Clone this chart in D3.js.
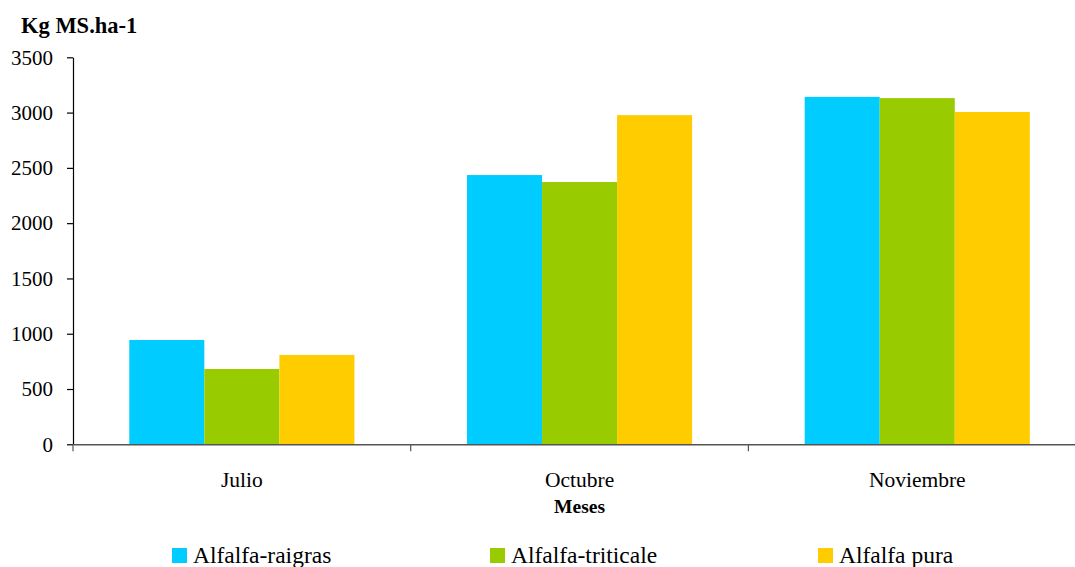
<!DOCTYPE html>
<html>
<head>
<meta charset="utf-8">
<script src="https://cdn.jsdelivr.net/npm/d3@7"></script>
<style>
  html, body { margin: 0; padding: 0; background: #fff; }
  svg text { font-family: "Times New Roman", "Liberation Serif", Times, "DejaVu Serif", serif; fill: #000; }
</style>
</head>
<body>
<svg id="chart" width="1075" height="567"></svg>
<script>
// Forage dry matter yield per month and mixture
const months = ["Julio", "Octubre", "Noviembre"];
const seriesNames = ["Alfalfa-raigras", "Alfalfa-triticale", "Alfalfa pura"];
const raigras = [943, 2435, 3142];
const triticale = [681, 2372, 3131];
const pura = [808, 2977, 3005];
const yTicks = [0, 500, 1000, 1500, 2000, 2500, 3000, 3500];
const colors = ["#00CCFF", "#99CC00", "#FFCC00"];

const seriesValues = [raigras, triticale, pura];
const serif = "'Times New Roman', 'Liberation Serif', Times, 'DejaVu Serif', serif";

const svg = d3.select("#chart");
const margin = { left: 73, top: 57.3, bottom: 444.3 };
const plotRight = 73 + 3 * 337.7;

const x = d3.scaleBand().domain(months).range([margin.left, plotRight]).paddingInner(0).paddingOuter(0);
const xs = d3.scaleBand().domain(seriesNames).range([0, x.bandwidth()]).paddingInner(0).paddingOuter(0.75);
const y = d3.scaleLinear().domain([0, 3500]).range([margin.bottom, margin.top]);

// Bars
const groups = svg.append("g").selectAll("g")
  .data(months)
  .join("g")
  .attr("transform", d => `translate(${x(d)},0)`);

groups.selectAll("rect")
  .data((m, i) => seriesNames.map((s, j) => ({ s, v: seriesValues[j][i], c: colors[j] })))
  .join("rect")
  .attr("x", d => xs(d.s))
  .attr("width", xs.bandwidth())
  .attr("y", d => y(d.v))
  .attr("height", d => y(0) - y(d.v))
  .attr("fill", d => d.c);

// Y axis
const yAxis = svg.append("g")
  .attr("transform", `translate(${margin.left},0)`)
  .call(d3.axisLeft(y).tickValues(yTicks).tickFormat(d3.format("d")).tickSize(6).tickPadding(14).tickSizeOuter(0))
  .attr("font-family", serif);
yAxis.select(".domain").attr("stroke", "#000").attr("stroke-width", 1.2);
yAxis.selectAll(".tick line").attr("stroke", "#000").attr("stroke-width", 1.2);
yAxis.selectAll(".tick text").attr("font-size", 21).attr("fill", "#000");

// X axis baseline and ticks at band boundaries
const xAxis = svg.append("g")
  .attr("transform", `translate(0,${margin.bottom})`)
  .call(d3.axisBottom(x).tickSize(0).tickPadding(27).tickSizeOuter(0))
  .attr("font-family", serif);
xAxis.select(".domain").attr("stroke", "#555").attr("stroke-width", 1.5);
xAxis.selectAll(".tick text").attr("font-size", 21.5).attr("fill", "#000");
xAxis.selectAll(".tick line").remove();
xAxis.selectAll("line.bound")
  .data(months.map(m => x(m)))
  .join("line")
  .attr("class", "bound")
  .attr("x1", d => d).attr("x2", d => d)
  .attr("y1", 0).attr("y2", 7)
  .attr("stroke", "#555").attr("stroke-width", 1.2);

// Axis titles
svg.append("text")
  .attr("x", 21).attr("y", 33)
  .attr("font-size", 22.5).attr("font-weight", "bold")
  .text("Kg MS.ha-1");

svg.append("text")
  .attr("x", x("Octubre") + x.bandwidth() / 2).attr("y", 512.5)
  .attr("text-anchor", "middle")
  .attr("font-size", 19.5).attr("font-weight", "bold")
  .text("Meses");

// Legend
const legendX = [172, 490, 818];
const legend = svg.append("g").selectAll("g")
  .data(seriesNames)
  .join("g")
  .attr("transform", (d, i) => `translate(${legendX[i]},548)`);
legend.append("rect").attr("width", 15).attr("height", 15).attr("fill", (d, i) => colors[i]);
legend.append("text").attr("x", 21).attr("y", 15.3).attr("font-size", 23.5).text(d => d);
</script>
</body>
</html>
